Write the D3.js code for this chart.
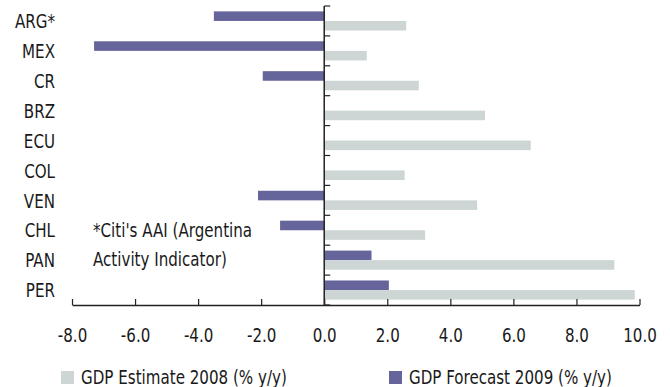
<!DOCTYPE html>
<html>
<head>
<meta charset="utf-8">
<script src="https://cdn.jsdelivr.net/npm/d3@7/dist/d3.min.js"></script>
<style>
  html, body { margin: 0; padding: 0; background: #fff; }
  svg { display: block; }
  text { font-family: "DejaVu Sans Condensed", "Liberation Sans", sans-serif; font-stretch: condensed; fill: #1a1a1a; font-size: 20px; }
</style>
</head>
<body>
<svg id="chart" width="670" height="387"></svg>
<script>
// Latin America GDP growth, % y/y
const countries = ["ARG*", "MEX", "CR", "BRZ", "ECU", "COL", "VEN", "CHL", "PAN", "PER"];
const gdp2008 = [2.6, 1.35, 3.0, 5.1, 6.55, 2.55, 4.85, 3.2, 9.2, 9.85];
const gdp2009 = [-3.5, -7.3, -1.95, null, null, null, -2.1, -1.4, 1.5, 2.05];
const xTicks = [-8, -6, -4, -2, 0, 2, 4, 6, 8, 10];
const seriesNames = ["GDP Estimate 2008 (% y/y)", "GDP Forecast 2009 (% y/y)"];
const footnote = ["*Citi's AAI (Argentina", "Activity Indicator)"];

const colors = { est: "#cdd5d5", fc: "#65659b" };
const squeeze = 0.84; // narrow the type horizontally

const svg = d3.select("#chart");

const x = d3.scaleLinear().domain([-8, 10]).range([72, 639.5]);
const pad = 0.36;
const y = d3.scaleBand().domain(countries).range([6, 305])
  .paddingInner(pad).paddingOuter(pad / 2);
const sub = d3.scaleBand().domain(["fc", "est"]).range([0, y.bandwidth()]);

// place a narrowed text label at (px, py)
function label(parent, px, py, str, anchor) {
  return parent.append("g")
    .attr("transform", `translate(${px},${py}) scale(${squeeze},1)`)
    .append("text")
    .attr("text-anchor", anchor || "start")
    .text(str);
}

// bars
const g = svg.append("g");
countries.forEach((c, i) => {
  if (gdp2009[i] !== null) {
    g.append("rect")
      .attr("x", x(Math.min(0, gdp2009[i])))
      .attr("y", y(c) + sub("fc"))
      .attr("width", Math.abs(x(gdp2009[i]) - x(0)))
      .attr("height", sub.bandwidth())
      .attr("fill", colors.fc);
  }
  g.append("rect")
    .attr("x", x(Math.min(0, gdp2008[i])))
    .attr("y", y(c) + sub("est"))
    .attr("width", Math.abs(x(gdp2008[i]) - x(0)))
    .attr("height", sub.bandwidth())
    .attr("fill", colors.est);
});

// bottom value axis, ticks pointing up
const fmt = d => d3.format(".1f")(d).replace("\u2212", "-");
const xAxis = svg.append("g")
  .attr("transform", `translate(0,${y.range()[1]})`)
  .call(d3.axisBottom(x).tickValues(xTicks).tickFormat(() => "").tickSize(-6).tickSizeOuter(0));
xAxis.select(".domain").attr("stroke", "#222").attr("stroke-width", 1.5);
xAxis.selectAll(".tick line").attr("stroke", "#222").attr("stroke-width", 1.2);
xAxis.selectAll(".tick").each(function (d) {
  label(d3.select(this), 0, 37, fmt(d), "middle");
});

// category axis at zero with ticks on band boundaries
const step = y.step();
const bounds = d3.range(countries.length + 1).map(i => y.range()[0] + i * step);
svg.append("line")
  .attr("x1", x(0)).attr("x2", x(0))
  .attr("y1", y.range()[0]).attr("y2", y.range()[1])
  .attr("stroke", "#222").attr("stroke-width", 1.5);
svg.selectAll(".ctick").data(bounds).join("line")
  .attr("class", "ctick")
  .attr("x1", x(0)).attr("x2", x(0) + 6)
  .attr("y1", d => d).attr("y2", d => d)
  .attr("stroke", "#222").attr("stroke-width", 1.2);

// category labels
const cl = svg.append("g");
countries.forEach(c => {
  label(cl, 55, y(c) + y.bandwidth() / 2, c, "end").attr("dy", "0.36em");
});

// footnote
const fn = svg.append("g");
footnote.forEach((s, i) => label(fn, 93, 237 + i * 29, s));

// legend
const legend = [
  { name: seriesNames[0], color: colors.est, x: 61 },
  { name: seriesNames[1], color: colors.fc, x: 389 }
];
const lg = svg.append("g");
legend.forEach(d => {
  const item = lg.append("g").attr("transform", `translate(${d.x},371)`);
  item.append("rect").attr("width", 13).attr("height", 13).attr("fill", d.color);
  label(item, 20, 13, d.name);
});
</script>
</body>
</html>
